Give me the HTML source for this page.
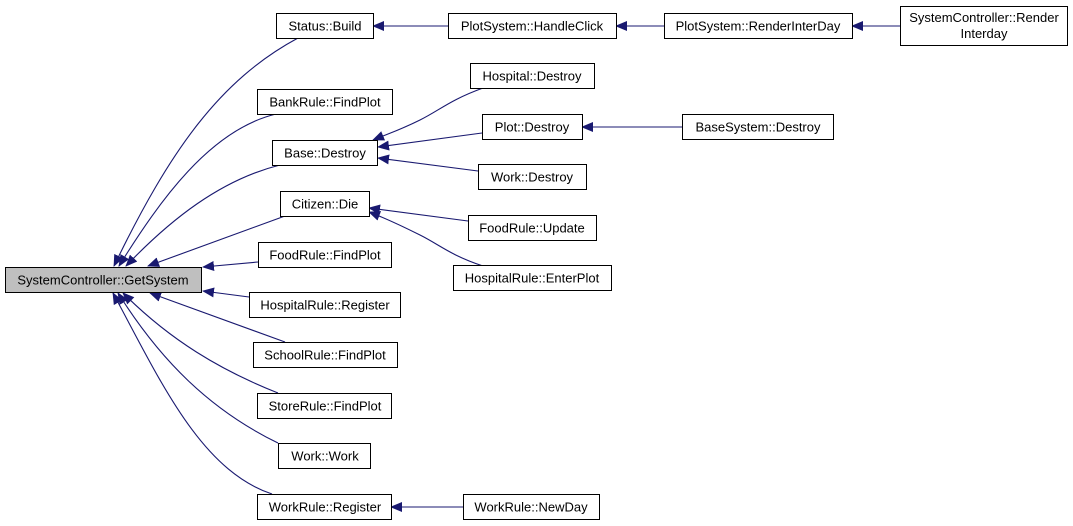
<!DOCTYPE html>
<html><head><meta charset="utf-8"><style>
html,body{margin:0;padding:0;background:#fff;width:1073px;height:526px;overflow:hidden}
svg text{font-family:"Liberation Sans",sans-serif;font-size:13px;fill:#000}
</style></head><body>
<svg width="1073" height="526" viewBox="0 0 1073 526" xmlns="http://www.w3.org/2000/svg">
<defs>
<marker id="a" markerWidth="12" markerHeight="10" refX="11" refY="5" orient="auto" markerUnits="userSpaceOnUse">
<path d="M0,0 L12,5 L0,10 z" fill="#191970"/>
</marker>
</defs>
<g fill="none" stroke="#191970" stroke-width="1.1" marker-end="url(#a)">
<path d="M298,38 C220,80 170,150 114,266"/>
<path d="M276,114 C210,130 160,200 119,266"/>
<path d="M280,165 C220,180 170,220 126,266"/>
<path d="M285,216 L148,266"/>
<path d="M258,262 L203,267"/>
<path d="M249,297 L203,291"/>
<path d="M285,342 L150,293"/>
<path d="M278,393 C220,370 170,340 123,293"/>
<path d="M278,443 C210,410 160,360 118,293"/>
<path d="M272,494 C200,470 160,380 113,293"/>
<path d="M448,26 L373,26"/>
<path d="M664,26 L616,26"/>
<path d="M900,26 L852,26"/>
<path d="M483,88 C450,100 440,110 420,120 C400,130 390,133 373,140"/>
<path d="M482,133 L378,147"/>
<path d="M478,171 L378,158"/>
<path d="M682,127 L582,127"/>
<path d="M468,221 L369,208"/>
<path d="M483,266 C450,255 440,245 420,235 C400,225 385,218 369,212"/>
<path d="M463,507 L391,507"/>
</g>
<g stroke="#000" stroke-width="1" fill="#fff">
<rect x="5.5" y="267.5" width="196" height="25" fill="#bfbfbf"/>
<rect x="276.5" y="13.5" width="97" height="25"/>
<rect x="257.5" y="89.5" width="135" height="25"/>
<rect x="272.5" y="140.5" width="105" height="25"/>
<rect x="280.5" y="191.5" width="89" height="25"/>
<rect x="258.5" y="242.5" width="133" height="25"/>
<rect x="249.5" y="292.5" width="151" height="25"/>
<rect x="253.5" y="342.5" width="144" height="25"/>
<rect x="257.5" y="393.5" width="134" height="25"/>
<rect x="278.5" y="443.5" width="92" height="25"/>
<rect x="257.5" y="494.5" width="134" height="25"/>
<rect x="448.5" y="13.5" width="168" height="25"/>
<rect x="664.5" y="13.5" width="188" height="25"/>
<rect x="900.5" y="6.5" width="167" height="39"/>
<rect x="470.5" y="63.5" width="124" height="25"/>
<rect x="482.5" y="114.5" width="100" height="25"/>
<rect x="682.5" y="114.5" width="151" height="25"/>
<rect x="478.5" y="164.5" width="108" height="25"/>
<rect x="468.5" y="215.5" width="128" height="25"/>
<rect x="453.5" y="265.5" width="158" height="25"/>
<rect x="463.5" y="494.5" width="136" height="25"/>
</g>
<g text-anchor="middle">
<text x="103" y="284.5">SystemController::GetSystem</text>
<text x="325" y="30.5">Status::Build</text>
<text x="325" y="106.5">BankRule::FindPlot</text>
<text x="325" y="157.5">Base::Destroy</text>
<text x="325" y="208.5">Citizen::Die</text>
<text x="325" y="259.5">FoodRule::FindPlot</text>
<text x="325" y="309.5">HospitalRule::Register</text>
<text x="325" y="359.5">SchoolRule::FindPlot</text>
<text x="325" y="410.5">StoreRule::FindPlot</text>
<text x="325" y="460.5">Work::Work</text>
<text x="325" y="511.5">WorkRule::Register</text>
<text x="532" y="30.5">PlotSystem::HandleClick</text>
<text x="758" y="30.5">PlotSystem::RenderInterDay</text>
<text x="984" y="22">SystemController::Render</text>
<text x="984" y="38">Interday</text>
<text x="532" y="80.5">Hospital::Destroy</text>
<text x="532" y="131.5">Plot::Destroy</text>
<text x="758" y="131.5">BaseSystem::Destroy</text>
<text x="532" y="181.5">Work::Destroy</text>
<text x="532" y="232.5">FoodRule::Update</text>
<text x="532" y="282.5">HospitalRule::EnterPlot</text>
<text x="531" y="511.5">WorkRule::NewDay</text>
</g>
</svg>
</body></html>
